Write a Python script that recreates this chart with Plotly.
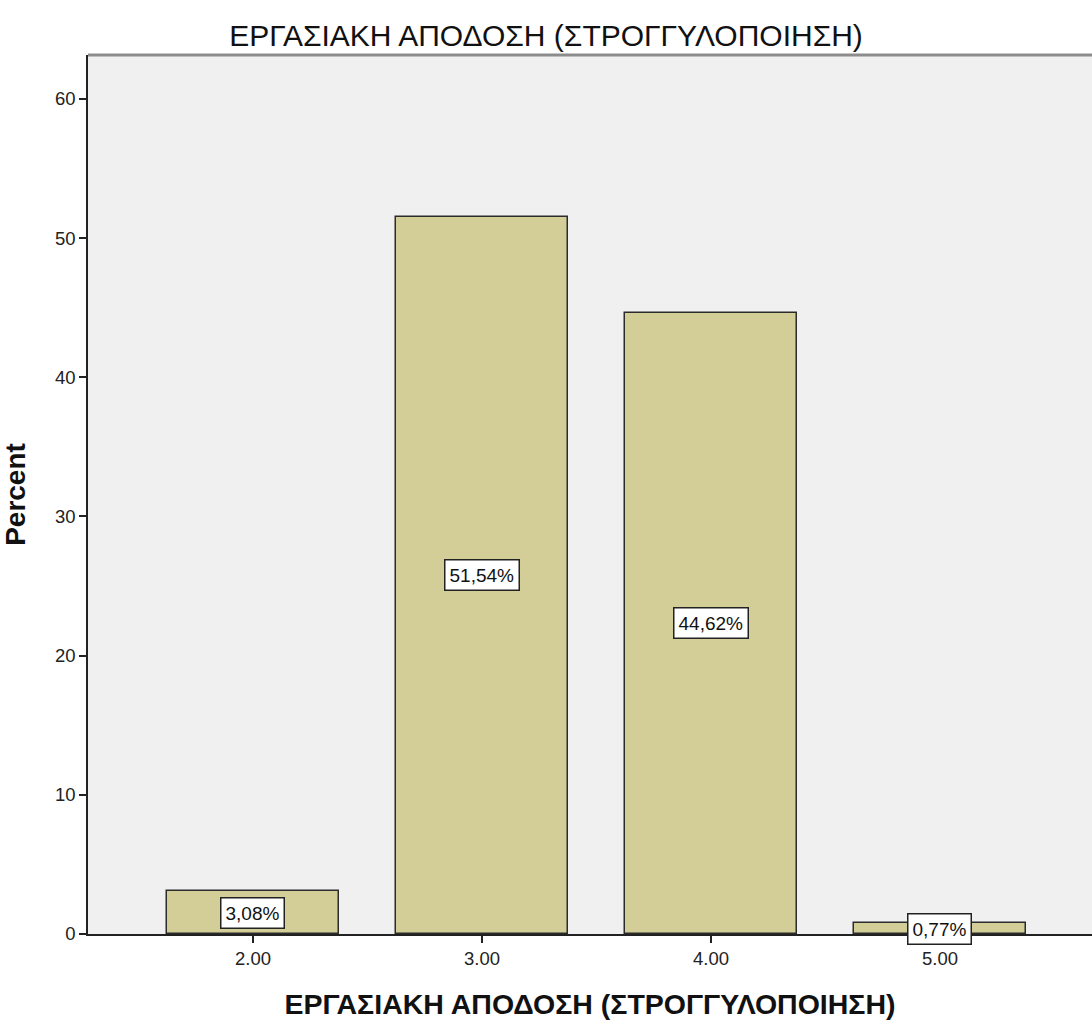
import plotly.graph_objects as go

# Data
categories = [2.0, 3.0, 4.0, 5.0]
percents = [3.08, 51.54, 44.62, 0.77]
y_ticks = [0, 10, 20, 30, 40, 50, 60]

title_text = "ΕΡΓΑΣΙΑΚΗ ΑΠΟΔΟΣΗ (ΣΤΡΟΓΓΥΛΟΠΟΙΗΣΗ)"
sans = "Liberation Sans, Arial, sans-serif"

fig = go.Figure()
fig.add_trace(go.Bar(
    x=categories,
    y=percents,
    width=0.75,
    marker=dict(color="#D3CE97", line=dict(color="#2b2b2b", width=1.5)),
    hoverinfo="skip",
))

# value labels in white boxes at the middle of each bar
for c, p in zip(categories, percents):
    fig.add_annotation(
        x=c, y=p / 2, xref="x", yref="y",
        text=f"{p:.2f}%".replace(".", ","),
        showarrow=False,
        font=dict(family=sans, size=19, color="#111"),
        bgcolor="white", bordercolor="#222", borderwidth=1.5, borderpad=4,
    )

# grey frame line along the top of the plot area
fig.add_shape(type="line", xref="paper", yref="paper", x0=0, x1=1, y0=1, y1=1,
              line=dict(color="#8c8c8c", width=3))

fig.update_layout(
    width=1092, height=1030,
    margin=dict(l=88, r=0, t=55, b=96),
    paper_bgcolor="white",
    plot_bgcolor="#F0F0F0",
    showlegend=False,
    title=dict(text=title_text, x=0.5, xanchor="center", y=0.966, yanchor="middle",
               font=dict(family=sans, size=30, color="#111")),
    xaxis=dict(
        range=[1.2795, 5.664],
        tickvals=categories, tickformat=".2f",
        ticks="outside", ticklen=7, tickcolor="#222", tickwidth=1.5,
        showgrid=False, zeroline=False,
        showline=True, linecolor="#222", linewidth=1.5,
        tickfont=dict(family=sans, size=18.5, color="#222"),
        title=dict(text="<b>" + title_text + "</b>", standoff=26,
                   font=dict(family=sans, size=28.5, color="#111")),
    ),
    yaxis=dict(
        range=[0, 63.15],
        tickvals=y_ticks,
        ticks="outside", ticklen=7, tickcolor="#222", tickwidth=1.5,
        showgrid=False, zeroline=False,
        showline=True, linecolor="#222", linewidth=1.5,
        tickfont=dict(family=sans, size=18.5, color="#222"),
        title=dict(text="<b>Percent</b>", standoff=21,
                   font=dict(family=sans, size=28, color="#111")),
    ),
    bargap=0,
)

fig.write_html("out.html")
